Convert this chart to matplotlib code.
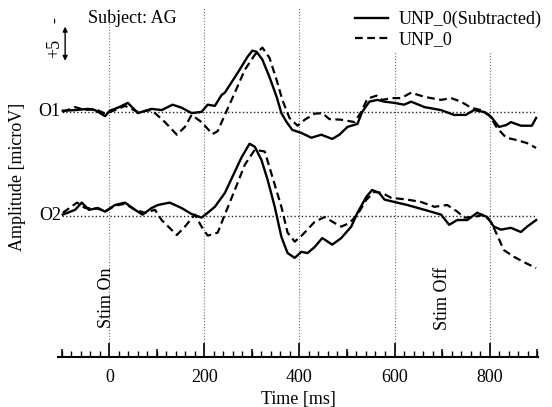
import matplotlib
matplotlib.use('Agg')
import matplotlib.pyplot as plt
import matplotlib.transforms as mtransforms

plt.rcParams['font.family'] = ['Liberation Serif', 'DejaVu Serif']
plt.rcParams['font.size'] = 13

# ---------------------------------------------------------------------
# Data (time in ms, amplitude in microV, negative up)
# ---------------------------------------------------------------------

t_o1_sub = [-98, -72, -45, -30, -9, 1, 18, 39, 60, 89, 110, 133, 152, 173, 194,
            207, 222, 236, 243, 270, 291, 301, 310, 322, 337, 352, 362, 373, 385,
            404, 425, 446, 469, 484, 501, 522, 532, 547, 564, 579, 600, 620, 635,
            663, 698, 725, 750, 767, 788, 803, 820, 835, 845, 866, 889, 898]
v_o1_sub = [-0.2, -0.3, -0.5, -0.3, 0.7, -0.2, -0.7, -1.5, 0.2, -0.5, -0.3, -1.2,
            -0.7, 0.2, 0.0, -1.2, -1.0, -2.8, -3.2, -6.5, -9.2, -10.2, -10.0, -8.7,
            -5.8, -2.5, 0.2, 1.7, 3.0, 3.5, 4.3, 3.8, 4.5, 3.8, 2.5, 2.0, 0.0, -1.7,
            -2.0, -1.7, -1.5, -1.2, -1.7, -0.8, -0.3, 0.5, 0.5, -0.3, 0.0, 0.8, 2.5,
            2.2, 1.7, 2.3, 2.3, 1.0]

t_o1_raw = [-98, -72, -51, -30, -9, 12, 33, 60, 89, 117, 142, 159, 173, 194, 217,
            228, 243, 264, 285, 306, 322, 337, 352, 364, 379, 396, 411, 432, 448,
            463, 488, 516, 530, 543, 562, 574, 595, 614, 635, 663, 698, 719, 740,
            761, 782, 799, 816, 835, 858, 879, 898]
v_o1_raw = [0.0, -0.8, -0.3, -0.5, 0.3, -0.3, -1.0, 0.0, -0.3, 1.7, 3.8, 2.5, 0.5,
            1.7, 3.7, 3.2, 0.5, -3.2, -7.0, -9.5, -10.7, -9.0, -5.3, -2.0, 1.0, 2.3,
            1.3, 0.3, 0.2, 1.2, 1.3, 1.7, 0.0, -2.2, -2.7, -2.0, -2.3, -2.3, -3.2,
            -2.5, -2.0, -2.3, -1.7, -0.7, -0.3, 0.5, 2.7, 4.3, 4.7, 5.2, 6.0]

t_o2_sub = [-98, -72, -58, -43, -24, -9, 12, 33, 54, 70, 89, 102, 127, 152, 173,
            194, 207, 222, 243, 259, 278, 295, 306, 320, 333, 348, 362, 375, 390,
            404, 417, 432, 448, 469, 488, 509, 522, 541, 553, 568, 579, 600, 627,
            663, 698, 715, 732, 753, 774, 795, 809, 824, 845, 866, 879, 898]
v_o2_sub = [-0.2, -1.0, -2.2, -1.0, -1.3, -0.7, -1.8, -2.2, -1.0, -0.2, -1.3, -1.8,
            -2.2, -1.3, -0.3, 0.3, -0.5, -1.5, -3.8, -6.5, -9.7, -12.0, -11.5, -9.3,
            -6.0, -1.5, 3.5, 6.2, 7.0, 6.0, 6.2, 5.2, 3.7, 4.8, 3.7, 1.8, -0.5, -3.2,
            -4.3, -3.8, -2.7, -2.3, -1.8, -1.0, -0.2, 1.5, 0.7, 0.7, -0.5, 0.2, 1.8,
            2.3, 2.0, 2.7, 1.8, 0.7]

t_o2_raw = [-98, -68, -51, -24, -9, 12, 33, 54, 75, 96, 110, 142, 159, 180, 194,
            207, 228, 243, 264, 285, 306, 327, 343, 362, 375, 390, 406, 432, 453,
            474, 488, 505, 522, 541, 558, 574, 593, 627, 656, 684, 711, 732, 747,
            768, 788, 803, 816, 830, 851, 872, 898]
v_o2_raw = [-0.5, -2.2, -1.3, -1.2, -0.7, -1.7, -2.0, -1.0, -0.5, -1.0, 0.7, 3.2,
            1.8, -0.2, 1.8, 3.3, 2.8, -0.2, -4.3, -8.5, -11.0, -10.7, -6.5, -1.5,
            2.8, 4.3, 3.2, 1.0, 0.2, 1.2, 1.8, 1.2, -0.2, -2.7, -4.0, -3.8, -3.0,
            -2.7, -2.3, -1.5, -1.8, -0.7, 0.3, 0.2, -0.2, 1.0, 3.2, 5.7, 6.8, 7.7,
            8.7]

channels = ['O1', 'O2']
offsets = [0.0, 17.3]
labels = ['UNP_0(Subtracted)', 'UNP_0']
grid_times = [0, 200, 400, 600, 800]

# ---------------------------------------------------------------------
# Figure
# ---------------------------------------------------------------------

fig = plt.figure(figsize=(5.52, 4.07), dpi=100)
ax = fig.add_axes([0.1051, 0.1229, 0.8696, 0.8575])
ax.set_xlim(-108, 902)
ax.set_ylim(40.8, -17.3)

for gt in grid_times:
    ax.axvline(gt, color='0.45', lw=0.8, ls=':', zorder=1)

series = [(t_o1_sub, v_o1_sub, t_o1_raw, v_o1_raw),
          (t_o2_sub, v_o2_sub, t_o2_raw, v_o2_raw)]

for (ts, vs, tr, vr), off, name in zip(series, offsets, channels):
    ax.hlines(off, -100, 900, color='0.15', lw=1.0, linestyles=':', zorder=2)
    l1, = ax.plot(ts, [v + off for v in vs], color='black', lw=1.7, zorder=4,
                  label=labels[0])
    l2, = ax.plot(tr, [v + off for v in vr], color='black', lw=1.6,
                  ls=(0, (3.5, 2)), zorder=3, label=labels[1])
    ax.text(-102, off, name, ha='right', va='center')

# scale bar (5 microV, negative up)
ax.annotate('', xy=(-93, -14.2), xytext=(-93, -8.5),
            arrowprops=dict(arrowstyle='<|-|>', color='black', lw=1.0,
                            mutation_scale=7, shrinkA=0, shrinkB=0),
            annotation_clip=False)
ax.text(-115, -10.5, '+5', rotation=90, ha='center', va='center', clip_on=False)
ax.text(-113, -15.3, '-', rotation=90, ha='center', va='center', clip_on=False)

ax.text(-45, -15.6, 'Subject: AG', ha='left', va='center')
ax.text(-6, 31.0, 'Stim On', rotation=90, ha='center', va='center')
ax.text(700, 31.0, 'Stim Off', rotation=90, ha='center', va='center')

# axes styling
for side in ['left', 'right', 'top']:
    ax.spines[side].set_visible(False)
ax.spines['bottom'].set_linewidth(1.5)
ax.set_yticks([])
ax.set_xticks(grid_times)
ax.set_xticks(list(range(-100, 901, 20)), minor=True)
ax.tick_params(axis='x', which='major', direction='in', length=10, width=1.2, pad=9)
ax.tick_params(axis='x', which='minor', direction='in', length=4, width=1.0)
trans = mtransforms.blended_transform_factory(ax.transData, ax.transAxes)
ax.vlines(list(range(-100, 901, 200)), 0, 0.024, transform=trans,
          color='black', lw=1.1)

ax.set_xlabel('Time [ms]', labelpad=3)
fig.text(18 / 552, 1 - 177 / 407, 'Amplitude [microV]', rotation=90,
         ha='center', va='center')

leg = ax.legend(handles=[l1, l2], loc='upper right',
                bbox_to_anchor=(545 / 552, 1 - 7 / 407),
                bbox_transform=fig.transFigure, frameon=True, framealpha=1,
                facecolor='white', edgecolor='white', fancybox=False,
                handlelength=1.8, handletextpad=0.6, labelspacing=0.2,
                borderpad=0.2, borderaxespad=0)
leg.get_frame().set_linewidth(0)
leg.set_zorder(5)

fig.savefig('out.png', dpi=100)
